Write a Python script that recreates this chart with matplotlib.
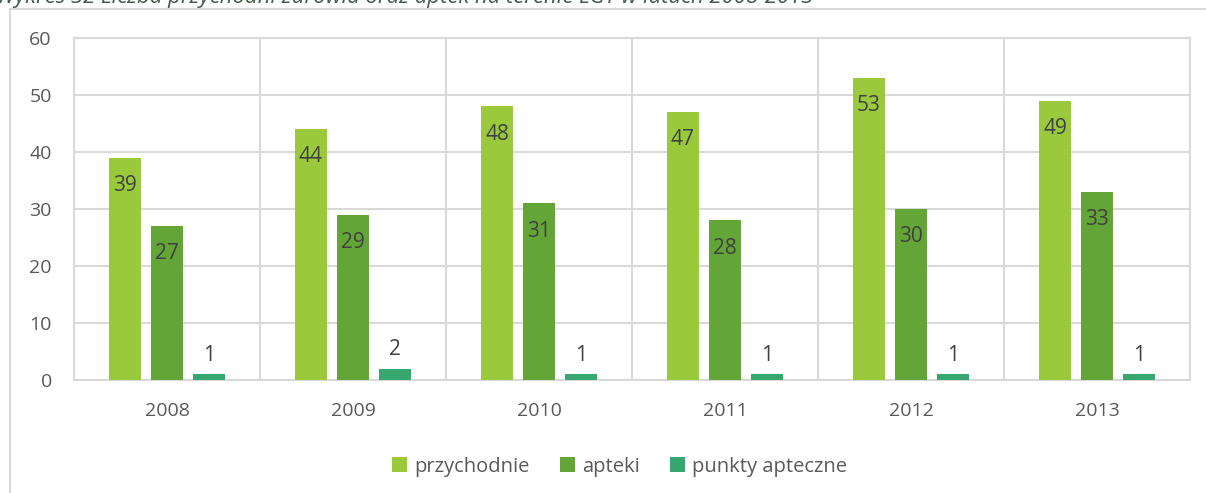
import matplotlib.pyplot as plt
import matplotlib.patches as patches
import numpy as np

plt.rcParams['font.family'] = ['Open Sans', 'DejaVu Sans']

lata = ['2008', '2009', '2010', '2011', '2012', '2013']
przychodnie = [39, 44, 48, 47, 53, 49]
apteki = [27, 29, 31, 28, 30, 33]
punkty_apteczne = [1, 2, 1, 1, 1, 1]

serie = ['przychodnie', 'apteki', 'punkty apteczne']
kolory = ['#9ACA3C', '#63A537', '#37A76F']

fig = plt.figure(figsize=(12.06, 4.93), dpi=100)
ax = fig.add_axes([74 / 1206, 113 / 493, 1116 / 1206, 342 / 493])

x = np.arange(len(lata))
szer = 0.177
krok = 0.226
dane = [przychodnie, apteki, punkty_apteczne]

for i, (nazwa, vals, kol) in enumerate(zip(serie, dane, kolory)):
    bars = ax.bar(x + (i - 1) * krok, vals, szer, color=kol, label=nazwa, zorder=3)
    for b, v in zip(bars, vals):
        cx = b.get_x() + b.get_width() / 2
        if i < 2:
            # etykieta wewnatrz slupka, przy gornej krawedzi
            ax.annotate(str(v), (cx, v), xytext=(0, -20), textcoords='offset points',
                        ha='center', va='center', fontsize=15, color='#404040', zorder=4)
        else:
            ax.annotate(str(v), (cx, v), xytext=(0, 13.5), textcoords='offset points',
                        ha='center', va='center', fontsize=15, color='#404040', zorder=4)

ax.set_xlim(-0.5, len(lata) - 0.5)
ax.set_ylim(0, 60)
ax.set_yticks(range(0, 61, 10))
ax.set_xticks(x)
ax.set_xticklabels(lata)
ax.tick_params(axis='both', length=0, labelsize=14, colors='#595959')
ax.tick_params(axis='x', pad=16)
ax.tick_params(axis='y', pad=16)

siatka = '#D9D9D9'
ax.yaxis.grid(True, color=siatka, lw=1.5, zorder=0)
for xv in np.arange(-0.5, len(lata), 1.0):
    ax.axvline(xv, color=siatka, lw=1.5, zorder=0)
for s in ax.spines.values():
    s.set_color(siatka)
    s.set_linewidth(1.5)

ax.legend(loc='center', bbox_to_anchor=(0.489, -0.254), ncol=3, frameon=False,
          fontsize=14.5, labelcolor='#595959', handlelength=0.75, handleheight=0.75,
          columnspacing=1.5, handletextpad=0.35)

# ramka wokol wykresu
ramka = patches.Rectangle((10 / 1206, -0.1), 1.2, (493 - 9) / 493 + 0.1,
                          transform=fig.transFigure, fill=False,
                          edgecolor=siatka, lw=1.5, clip_on=False)
fig.patches.append(ramka)

fig.text(-0.003, (493 - 2.5) / 493,
         'Wykres 32 Liczba przychodni zdrowia oraz aptek na terenie LGT w latach 2008-2013',
         fontsize=15.9, style='italic', color='#44594C', va='baseline', ha='left')

fig.savefig('out.png', dpi=100)
